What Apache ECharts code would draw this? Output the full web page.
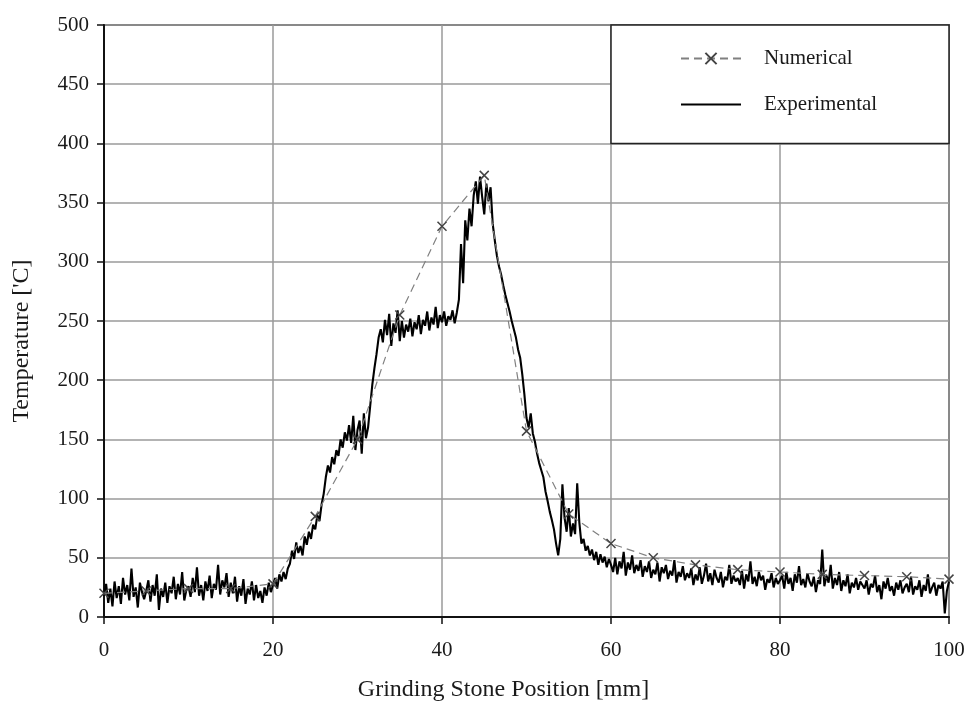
<!DOCTYPE html>
<html>
<head>
<meta charset="utf-8">
<script src="https://cdn.jsdelivr.net/npm/echarts@6/dist/echarts.min.js"></script>
<style>
html,body{margin:0;padding:0;background:#fff;}
#chart{width:969px;height:707px;}
</style>
</head>
<body>
<div id="chart"></div>
<script>
// ---- data ----
var xTicks = [0, 20, 40, 60, 80, 100];
var yTicks = [0, 50, 100, 150, 200, 250, 300, 350, 400, 450, 500];

// Numerical (simulation) points: position [mm], temperature [°C]
var numX = [0, 5, 10, 15, 20, 25, 30, 35, 40, 45, 50, 55, 60, 65, 70, 75, 80, 85, 90, 95, 100];
var numY = [20, 22, 24, 24, 28, 85, 150, 255, 330, 373, 157, 87, 62, 50, 44, 40, 38, 36, 35, 34, 32];

// Experimental measurement, sampled every 0.25 mm from 0 to 100 mm
var expStart = 0;
var expStep = 0.25;
var expY = [
  18, 28, 12, 24, 9, 30, 16, 26, 11, 33, 19, 27, 14, 41, 17, 25, 8, 29, 21, 15,
  22, 31, 13, 27, 18, 36, 6, 24, 17, 29, 12, 26, 20, 34, 15, 28, 19, 38, 14, 23,
  26, 17, 33, 21, 42, 18, 27, 14, 30, 22, 35, 16, 28, 23, 44, 19, 31, 25, 37, 17,
  29, 20, 34, 13, 26, 18, 32, 11, 24, 19, 30, 14, 27, 16, 22, 12, 25, 18, 29, 21,
  27, 33, 24, 36, 30, 38, 32, 41,
  45, 56, 49, 63, 54, 60, 52, 68, 61, 72, 66, 78,
  74, 86, 81, 95, 104, 118,
  128, 122, 135, 129, 141, 136, 150, 143, 156, 149,
  162, 147, 170, 141, 158, 166, 138, 172, 151, 160,
  178, 196, 210, 222, 236, 243,
  232, 251, 238, 256, 229, 248, 240, 259, 233, 250, 236, 247,
  241, 252, 237, 249, 243, 255, 239, 251, 246, 258, 242, 253, 247, 262, 244, 255, 249, 258, 246, 254, 251, 259, 248, 257,
  268, 315, 282, 335, 318, 345, 330, 356,
  368, 349, 372, 355, 340, 366, 351, 363,
  332, 318, 305, 296, 289, 280, 272, 265,
  258, 250, 243, 236, 226, 219, 205, 188,
  168, 160, 172, 155, 148, 138, 130, 124,
  118, 106, 98, 89, 82, 74, 62, 52,
  66, 112, 84, 72, 92, 68, 79, 70,
  113, 80, 62, 66, 56, 60, 52, 57,
  48, 55, 44, 53, 46, 51, 42, 49,
  44, 38, 50, 36, 47, 41, 55, 35, 46, 40, 52, 37, 44, 39, 48, 34, 43, 38, 47, 33,
  40, 36, 46, 30, 42, 37, 44, 32, 39, 35, 48, 29, 38, 34, 43, 31, 37, 33, 41, 27,
  36, 31, 42, 28, 35, 45, 30, 37, 27, 40, 33, 29, 38, 25, 34, 31, 44, 28, 35, 30,
  33, 27, 39, 24, 36, 30, 47, 28, 34, 26, 38, 31, 35, 23, 32, 29, 37, 25, 33, 28,
  31, 35, 24, 38, 28, 33, 22, 36, 29, 43, 27, 32, 25, 37, 30, 26, 34, 21, 31, 28,
  57, 26, 35, 29, 44, 24, 33, 27, 38, 22, 31, 26, 36, 20, 29, 25, 33, 23, 30, 27,
  24, 31, 19, 28, 25, 35, 21, 27, 15, 30, 24, 33, 22, 26, 18, 29, 23, 31, 20, 25,
  28, 21, 34, 19, 26, 23, 31, 17, 27, 22, 36, 20, 25, 29, 18, 27, 24, 30, 3, 22, 30
];

var seriesNames = ['Numerical', 'Experimental'];
var xTitle = 'Grinding Stone Position [mm]';
var yTitle = "Temperature ['C]";
// legend panel spans these axis ranges
var legendBoxX = [60, 100];
var legendBoxY = [400, 500];

// ---- build ----
var numData = numX.map(function (x, i) { return [x, numY[i]]; });
var expData = expY.map(function (y, i) { return [expStart + i * expStep, y]; });

var serif = '"Liberation Serif", "DejaVu Serif", serif';
var txt = '#1a1a1a';
var chart = echarts.init(document.getElementById('chart'));
chart.setOption({
  animation: false,
  backgroundColor: '#fff',
  textStyle: { fontFamily: serif },
  grid: {
    left: 104, right: 20, top: 25, bottom: 90,
    show: true, borderColor: '#222', borderWidth: 1.5, backgroundColor: 'transparent'
  },
  legend: {
    data: [
      { name: seriesNames[0] },
      { name: seriesNames[1], itemStyle: { opacity: 0 } }
    ],
    orient: 'vertical',
    left: 680, top: 48,
    padding: 0,
    itemWidth: 60, itemHeight: 14, itemGap: 25,
    textStyle: { fontFamily: serif, fontSize: 21, color: txt, padding: [0, 0, 0, 18] },
    z: 10
  },
  xAxis: {
    type: 'value', min: 0, max: 100, interval: 20,
    name: xTitle, nameLocation: 'middle', nameGap: 61,
    nameTextStyle: { fontFamily: serif, fontSize: 24, color: txt, padding: [0, 46, 0, 0] },
    axisLine: { show: true, onZero: false, lineStyle: { color: '#111', width: 2 } },
    axisTick: { show: true, inside: false, length: 7, lineStyle: { color: '#111', width: 1.5 } },
    axisLabel: { fontFamily: serif, fontSize: 21, color: txt, margin: 23 },
    splitLine: { show: true, lineStyle: { color: '#9a9a9a', width: 1.5 } }
  },
  yAxis: {
    type: 'value', min: 0, max: 500, interval: 50,
    name: yTitle, nameLocation: 'middle', nameGap: 70, nameRotate: 90,
    nameTextStyle: { fontFamily: serif, fontSize: 24, color: txt, padding: [0, 40, 0, 0] },
    axisLine: { show: true, lineStyle: { color: '#111', width: 2 } },
    axisTick: { show: true, inside: false, length: 7, lineStyle: { color: '#111', width: 1.5 } },
    axisLabel: { fontFamily: serif, fontSize: 21, color: txt, margin: 15 },
    splitLine: { show: true, lineStyle: { color: '#9a9a9a', width: 1.5 } }
  },
  series: [
    {
      name: seriesNames[1],
      type: 'line',
      data: expData,
      showSymbol: false,
      symbol: 'none',
      lineStyle: { color: '#000', width: 2.1 },
      itemStyle: { color: '#000' },
      z: 3
    },
    {
      name: seriesNames[0],
      type: 'line',
      data: numData,
      symbol: 'path://M0 0L10 10M10 0L0 10',
      symbolSize: 9,
      showSymbol: true,
      lineStyle: { color: '#808080', width: 1.2, type: [8, 5] },
      itemStyle: { color: 'rgba(0,0,0,0)', borderColor: '#444', borderWidth: 1.5 },
      z: 4,
      markArea: {
        silent: true,
        itemStyle: { color: '#fff', borderColor: '#222', borderWidth: 1.5 },
        data: [[{ coord: [legendBoxX[0], legendBoxY[0]] }, { coord: [legendBoxX[1], legendBoxY[1]] }]]
      }
    }
  ]
});
</script>
</body>
</html>
